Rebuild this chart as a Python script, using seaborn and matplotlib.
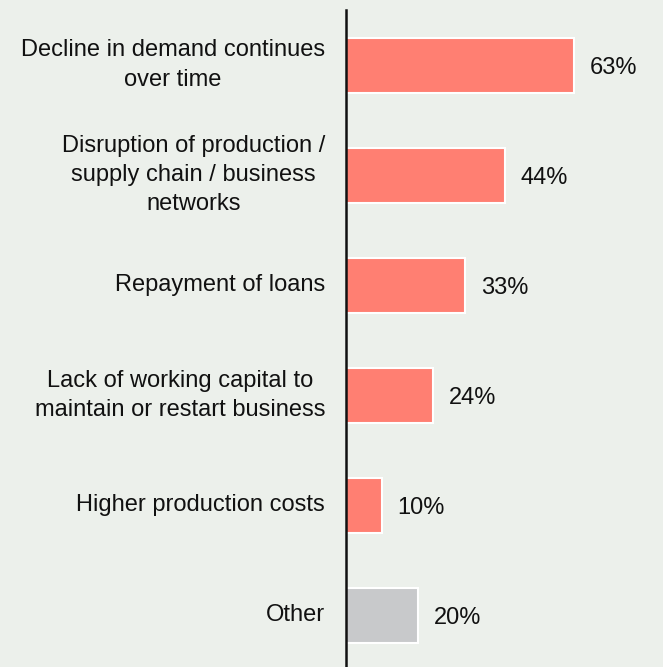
import matplotlib
matplotlib.use("Agg")
import matplotlib.pyplot as plt
import seaborn as sns
import pandas as pd

categories = [
    "Decline in demand continues\nover time",
    "Disruption of production /\nsupply chain / business\nnetworks",
    "Repayment of loans",
    "Lack of working capital to\nmaintain or restart business",
    "Higher production costs",
    "Other",
]
values = [63, 44, 33, 24, 10, 20]
bar_colors = ["#FF7F72", "#FF7F72", "#FF7F72", "#FF7F72", "#FF7F72", "#C8C9CB"]

bg = "#ECF0EB"
sns.set_theme(style="white")
plt.rcParams["font.family"] = ["Liberation Sans", "DejaVu Sans"]

df = pd.DataFrame({"category": categories, "value": values})

fig = plt.figure(figsize=(6.63, 6.67), dpi=100, facecolor=bg)
ax = fig.add_axes([346 / 663, 0.0, 1 - 346 / 663, 1 - 10 / 667])
ax.set_facecolor(bg)

sns.barplot(data=df, x="value", y="category", hue="category", palette=bar_colors,
            saturation=1, legend=False, width=0.5, edgecolor="white", linewidth=1.5,
            ax=ax, orient="h")

for i, v in enumerate(values):
    ax.text(v + 4.3, i, f"{v}%", va="center_baseline", ha="left", fontsize=17,
            color="#111111")

ax.set_xlim(0, 87.6)
ax.set_ylim(5.47, -0.5)
ax.set_xlabel("")
ax.set_ylabel("")
ax.set_xticks([])
ax.tick_params(axis="y", length=0, pad=15, labelsize=17, labelcolor="#111111")
for lab in ax.get_yticklabels():
    lab.set_multialignment("center")
    lab.set_linespacing(1.42)
    lab.set_verticalalignment("center")

for side in ["top", "right", "bottom"]:
    ax.spines[side].set_visible(False)
ax.spines["left"].set_color("#111111")
ax.spines["left"].set_linewidth(1.8)

fig.savefig("out.png", dpi=100, facecolor=bg)
